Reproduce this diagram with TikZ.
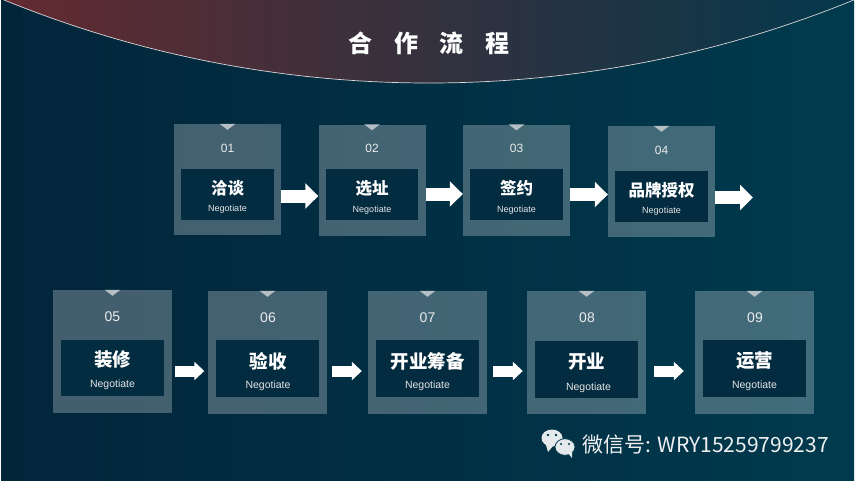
\documentclass[tikz,border=0pt]{standalone}
\usepackage{fontspec}
\setmainfont{Liberation Sans}
\newfontfamily\cjk{Noto Sans CJK SC}
\usepackage{xcolor}
\usetikzlibrary{arrows.meta}
\definecolor{bgleft}{HTML}{02253A}
\definecolor{bgright}{HTML}{013A4E}
\definecolor{domeleft}{HTML}{642A30}
\definecolor{domeright}{HTML}{04384C}
\definecolor{innerbox}{HTML}{032C40}
\definecolor{notchgray}{HTML}{B4BEC3}
\definecolor{chatgray}{HTML}{E4E9EB}
\tikzset{
  outerbox/.style={fill=white,fill opacity=.26,minimum width=#1,inner sep=0pt},
  stepfill/.style={fill=innerbox,inner sep=0pt},
  numsmall/.style={text=white!92!black,font=\fontsize{12}{14}\selectfont},
  numbig/.style={text=white!92!black,font=\fontsize{14}{16}\selectfont},
  namesmall/.style={text=white,font=\cjk\bfseries\fontsize{16.5}{19}\selectfont},
  namebig/.style={text=white,font=\cjk\bfseries\fontsize{18.5}{22}\selectfont},
  subsmall/.style={text=white!90!black,font=\fontsize{9}{11}\selectfont},
  subbig/.style={text=white!90!black,font=\fontsize{10.5}{12}\selectfont},
  flowsmall/.style={draw=white,line width=13pt,-{Triangle[length=13pt,width=25pt]}},
  flowbig/.style={draw=white,line width=11pt,-{Triangle[length=10pt,width=18pt]}},
}
\begin{document}
\begin{tikzpicture}[x=1pt,y=-1pt]
  \useasboundingbox (0,0) rectangle (857,483);
  \fill[white] (0,0) rectangle (857,483);
  \fill[left color=bgleft,right color=bgright] (1,0) rectangle (854,480);
  \begin{scope}
    \clip (1,0) rectangle (854,480);
    \begin{scope}
      \clip (429,-1041.5) circle (1124.5);
      \fill[left color=domeleft,right color=domeright] (1,0) rectangle (854,90);
    \end{scope}
    \draw[white!85!black,line width=.7pt] (429,-1041.5) circle (1124.5);
  \end{scope}
  \node[text=white,font=\cjk\bfseries\fontsize{24}{28}\selectfont] (title) at (429,43) {合\hspace{21.5pt}作\hspace{21.5pt}流\hspace{21.5pt}程};

  \node[outerbox=107pt,minimum height=111pt] (s01) at (227.5,179.5) {};
  \node[outerbox=107pt,minimum height=111pt] (s02) at (372,180) {};
  \node[outerbox=107pt,minimum height=111pt] (s03) at (516.5,180) {};
  \node[outerbox=107pt,minimum height=111pt] (s04) at (661.5,181.5) {};
  \node[outerbox=119pt,minimum height=123pt] (s05) at (112.5,351.5) {};
  \node[outerbox=119pt,minimum height=123pt] (s06) at (267.5,352.5) {};
  \node[outerbox=119pt,minimum height=123pt] (s07) at (427.5,352.5) {};
  \node[outerbox=119pt,minimum height=123pt] (s08) at (586.5,352.5) {};
  \node[outerbox=119pt,minimum height=123pt] (s09) at (754.5,352.5) {};

  \foreach \s in {s01,s02,s03,s04,s05,s06,s07,s08,s09}
    \fill[notchgray] (\s.north) ++(-8,0) -- ++(16,0) -- ++(-8,6) -- cycle;

  \node[numsmall] (n01) at (227.5,148) {01};
  \node[numsmall] (n02) at (372,148.5) {02};
  \node[numsmall] (n03) at (516.5,148.5) {03};
  \node[numsmall] (n04) at (661.5,150) {04};
  \node[numbig] (n05) at (112.5,316.5) {05};
  \node[numbig] (n06) at (268,317.5) {06};
  \node[numbig] (n07) at (427.5,317.5) {07};
  \node[numbig] (n08) at (587,317.5) {08};
  \node[numbig] (n09) at (755,317.5) {09};

  \node[stepfill,minimum width=92.5pt,minimum height=51pt] (b01) at (227.5,194) {};
  \node[stepfill,minimum width=92.5pt,minimum height=51pt] (b02) at (372,194.5) {};
  \node[stepfill,minimum width=92.5pt,minimum height=51pt] (b03) at (516.5,194.5) {};
  \node[stepfill,minimum width=92.5pt,minimum height=51pt] (b04) at (661.5,196) {};
  \node[stepfill,minimum width=103pt,minimum height=56.5pt] (b05) at (112.5,368) {};
  \node[stepfill,minimum width=103pt,minimum height=56.5pt] (b06) at (267.5,368.5) {};
  \node[stepfill,minimum width=103pt,minimum height=56.5pt] (b07) at (427.5,368.5) {};
  \node[stepfill,minimum width=103pt,minimum height=56.5pt] (b08) at (586.5,369.5) {};
  \node[stepfill,minimum width=103pt,minimum height=56.5pt] (b09) at (754.5,368.5) {};

  \node[namesmall] (t01) at (227.5,188) {洽谈};
  \node[namesmall] (t02) at (372,188.5) {选址};
  \node[namesmall] (t03) at (516.5,188.5) {签约};
  \node[namesmall] (t04) at (661.5,190) {品牌授权};
  \node[namebig] (t05) at (112.5,360) {装修};
  \node[namebig] (t06) at (268,361) {验收};
  \node[namebig] (t07) at (427.5,361) {开业筹备};
  \node[namebig] (t08) at (586.5,362) {开业};
  \node[namebig] (t09) at (754.5,361) {运营};

  \node[subsmall] (e01) at (227.5,209.5) {Negotiate};
  \node[subsmall] (e02) at (372,210) {Negotiate};
  \node[subsmall] (e03) at (516.5,210) {Negotiate};
  \node[subsmall] (e04) at (661.5,211.5) {Negotiate};
  \node[subbig] (e05) at (112.5,385) {Negotiate};
  \node[subbig] (e06) at (268,385.5) {Negotiate};
  \node[subbig] (e07) at (427.5,385.5) {Negotiate};
  \node[subbig] (e08) at (588.5,387.5) {Negotiate};
  \node[subbig] (e09) at (754.5,385.5) {Negotiate};

  \coordinate (end04) at (753,197.5);
  \draw[flowsmall] ([yshift=-16.5pt]s01.east) -- ([yshift=-16pt]s02.west);
  \draw[flowsmall] ([yshift=-14pt]s02.east) -- ([yshift=-14pt]s03.west);
  \draw[flowsmall] ([yshift=-14.5pt]s03.east) -- ([yshift=-13pt]s04.west);
  \draw[flowsmall] (s04.east |- end04) -- (end04);
  \draw[flowbig,shorten <=3pt,shorten >=3.5pt] ([yshift=-19.5pt]s05.east) -- ([yshift=-18.5pt]s06.west);
  \draw[flowbig,shorten <=4.5pt,shorten >=6pt] ([yshift=-18.5pt]s06.east) -- ([yshift=-18.5pt]s07.west);
  \draw[flowbig,shorten <=6pt,shorten >=4pt] ([yshift=-18.5pt]s07.east) -- ([yshift=-18.5pt]s08.west);
  \draw[flowbig,shorten <=8pt,shorten >=11pt] ([yshift=-18.5pt]s08.east) -- ([yshift=-18.5pt]s09.west);

  \fill[chatgray] (552,438) ellipse (10.5 and 8.5);
  \fill[chatgray] (546,445) -- (548,452) -- (553,446) -- cycle;
  \fill[bgright] (548,435) circle (1.3) (556,435) circle (1.3);
  \draw[bgright,line width=.8pt,fill=chatgray] (565,447) ellipse (10 and 8.3);
  \fill[chatgray] (568,453) -- (572,458) -- (572,452) -- cycle;
  \fill[bgright] (561,444) circle (1.2) (569,444) circle (1.2);
  \node[text=white!94!black,font=\cjk\fontsize{21}{25}\selectfont,anchor=west] (wechat) at (579,445) {微信号: WRY15259799237};
\end{tikzpicture}
\end{document}
